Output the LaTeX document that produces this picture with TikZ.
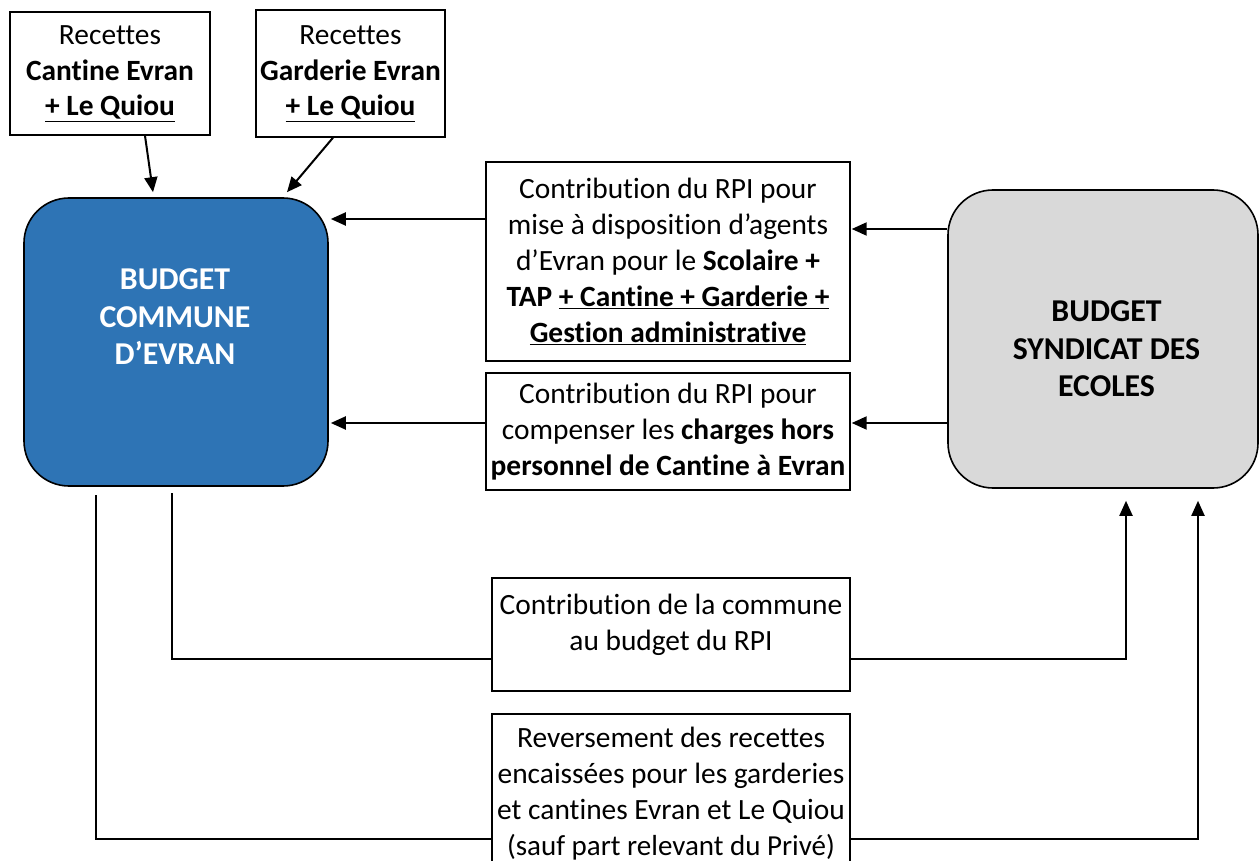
\documentclass[tikz,border=0pt]{standalone}
\usepackage{fontspec}
\setmainfont[Ligatures={NoCommon}]{Carlito}
\usetikzlibrary{arrows.meta}
\definecolor{budblue}{RGB}{46,116,181}
\definecolor{budgrey}{RGB}{217,217,217}
\begin{document}
\begin{tikzpicture}[x=1pt,y=-1pt,
  box/.style={draw=black, line width=1.4pt, fill=white, inner sep=0pt},
  txt/.style={align=center, inner sep=0pt, font=\fontsize{29.4}{35.8}\selectfont},
  budget/.style={draw=black, line width=1.6pt, rounded corners=45pt, inner sep=0pt},
  budtxt/.style={align=center, inner sep=0pt, font=\fontsize{31.8}{37.5}\selectfont\bfseries},
  conn/.style={line width=2pt},
  arr/.style={conn, -{Triangle[length=15pt,width=13pt]}}]
\path[use as bounding box, clip] (0,0) rectangle (1259,861);
% budgets
\node[budget, fill=budblue, minimum width=304pt, minimum height=288pt] (blue) at (176,342) {};
\node[budtxt, text=white] (bluet) at (175,317) {BUDGET\\COMMUNE\\D’EVRAN};
\node[budget, fill=budgrey, minimum width=310pt, minimum height=298pt] (grey) at (1103,339) {};
\node[budtxt] (greyt) at (1106.5,349) {BUDGET\\SYNDICAT DES\\ECOLES};
% top boxes
\node[box, txt, minimum width=200pt, minimum height=123pt] (cant) at (110,73.5)
  {Recettes\\\textbf{Cantine Evran}\\\textbf{\underline{+ Le Quiou}}};
\node[box, txt, minimum width=189pt, minimum height=127pt] (gard) at (350.5,73.5)
  {Recettes\\\textbf{Garderie Evran}\\\textbf{\underline{+ Le Quiou}}};
% middle boxes
\node[box, txt, minimum width=364pt, minimum height=199pt] (m1) at (668,261.5)
  {Contribution du RPI pour\\mise à disposition d’agents\\d’Evran pour le \textbf{Scolaire +}\\\textbf{TAP \underline{+ Cantine + Garderie +}}\\\textbf{\underline{Gestion administrative}}};
\node[box, txt, minimum width=364pt, minimum height=117pt] (m2) at (668,431.5)
  {Contribution du RPI pour\\compenser les \textbf{charges hors}\\\textbf{personnel de Cantine à Evran}};
% bottom boxes
\node[box, minimum width=358pt, minimum height=113pt] (b3) at (671,634.5) {};
\node[txt] (b3t) at (671,625) {Contribution de la commune\\au budget du RPI};
\node[box, minimum width=358pt, minimum height=186pt] (b4) at (671,807) {};
\node[txt, anchor=north] (b4t) at (671,727) {Reversement des recettes\\encaissées pour les garderies\\et cantines Evran et Le Quiou\\{\fontsize{29}{33}\selectfont(sauf part relevant du Privé)}};
% arrows
\draw[arr] ([xshift=35pt]cant.south) -- ([xshift=-23pt,yshift=5pt]blue.north);
\draw[arr] ([xshift=-17.5pt]gard.south) -- ([xshift=111pt,yshift=5pt]blue.north);
\draw[arr] (m1.west |- 0,219) -- ([xshift=2pt]blue.east |- 0,219);
\draw[arr] (grey.west |- 0,229) -- ([xshift=1pt]m1.east |- 0,229);
\draw[arr] (m2.west |- 0,423) -- ([xshift=2pt]blue.east |- 0,423);
\draw[arr] (grey.west |- 0,423) -- ([xshift=1pt]m2.east |- 0,423);
\coordinate (s3) at (172,493);
\coordinate (s4) at (96,495);
\draw[conn] (s3) |- (b3.west |- 0,659);
\draw[arr] (b3.east |- 0,659) -| ([xshift=23pt,yshift=-12pt]grey.south);
\draw[conn] (s4) |- (b4.west |- 0,839);
\draw[arr] (b4.east |- 0,839) -| ([xshift=95pt,yshift=-12pt]grey.south);
\end{tikzpicture}
\end{document}
